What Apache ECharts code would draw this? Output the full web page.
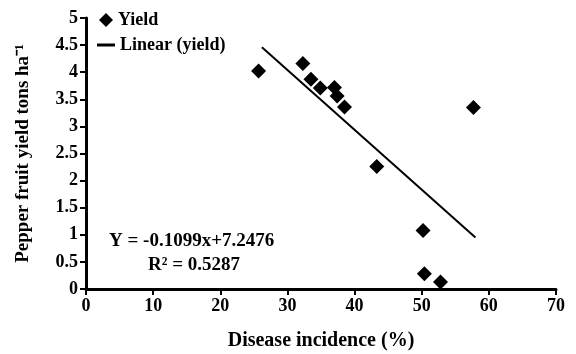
<!DOCTYPE html>
<html><head><meta charset="utf-8">
<script src="https://cdn.jsdelivr.net/npm/echarts@6/dist/echarts.min.js"></script>
<style>html,body{margin:0;padding:0;background:#fff}#c{width:576px;height:354px}</style>
</head><body><div id="c"></div>
<script>
const diseaseIncidence = [25.7, 32.3, 33.5, 34.9, 37.0, 37.4, 38.5, 43.3, 57.7, 50.2, 50.4, 52.8];
const yieldValues = [4.02, 4.16, 3.87, 3.71, 3.72, 3.56, 3.36, 2.26, 3.35, 1.08, 0.28, 0.13];
const trendX = [26.2, 58.0];
const trendY = [4.46, 0.95];
const xTicks = [0, 10, 20, 30, 40, 50, 60, 70];
const yTicks = [0, 0.5, 1, 1.5, 2, 2.5, 3, 3.5, 4, 4.5, 5];
const equationText = 'Y = -0.1099x+7.2476';
const r2Text = 'R² = 0.5287';

const FONT = 'Liberation Serif';
function axisStyle(w) {
  return {
    axisLine: {show: true, onZero: false, lineStyle: {color: '#000', width: w}},
    axisTick: {show: true, inside: false, length: 6, lineStyle: {color: '#000', width: 2}},
    splitLine: {show: false},
    axisLabel: {show: true, color: '#000', fontFamily: FONT, fontWeight: 'bold', fontSize: 18, margin: 8},
    nameTextStyle: {color: '#000', fontFamily: FONT, fontWeight: 'bold', fontSize: 19}
  };
}
const chart = echarts.init(document.getElementById('c'), null, {renderer: 'canvas'});
chart.setOption({
  animation: false,
  backgroundColor: '#fff',
  grid: {left: 86, right: 20, top: 18, bottom: 65, containLabel: false, outerBoundsMode: 'none'},
  xAxis: Object.assign(axisStyle(3), {
    type: 'value', position: 'bottom', min: xTicks[0], max: xTicks[xTicks.length - 1], interval: 10,
    name: 'Disease incidence (%)', nameLocation: 'middle', nameGap: 42,
    nameTextStyle: {color: '#000', fontFamily: FONT, fontWeight: 'bold', fontSize: 20}
  }),
  yAxis: Object.assign(axisStyle(3), {
    type: 'value', position: 'left', min: yTicks[0], max: yTicks[yTicks.length - 1], interval: 0.5,
    name: 'Pepper fruit yield tons ha⁻¹', nameLocation: 'middle', nameGap: 53
  }),
  legend: [
    {data: [{name: 'Yield', icon: 'diamond'}], left: 94, top: 6, itemWidth: 14, itemHeight: 14,
     textStyle: {color: '#000', fontFamily: FONT, fontWeight: 'bold', fontSize: 18}},
    {data: [{name: 'Linear (yield)', icon: 'rect'}], left: 92, top: 31, itemWidth: 18, itemHeight: 3,
     textStyle: {color: '#000', fontFamily: FONT, fontWeight: 'bold', fontSize: 18}}
  ],
  series: [
    {name: 'Yield', type: 'scatter', symbol: 'diamond', symbolSize: 15,
     itemStyle: {color: '#000', opacity: 1},
     data: diseaseIncidence.map((x, i) => [x, yieldValues[i]])},
    {name: 'Linear (yield)', type: 'line', showSymbol: false, symbol: 'none',
     lineStyle: {color: '#000', width: 2}, itemStyle: {color: '#000'},
     data: trendX.map((x, i) => [x, trendY[i]])}
  ],
  graphic: [
    {type: 'text', left: 109, top: 232, style: {text: equationText, fill: '#000', font: 'bold 19px "Liberation Serif"'}},
    {type: 'text', left: 148, top: 256, style: {text: r2Text, fill: '#000', font: 'bold 19px "Liberation Serif"'}}
  ]
});
</script></body></html>
